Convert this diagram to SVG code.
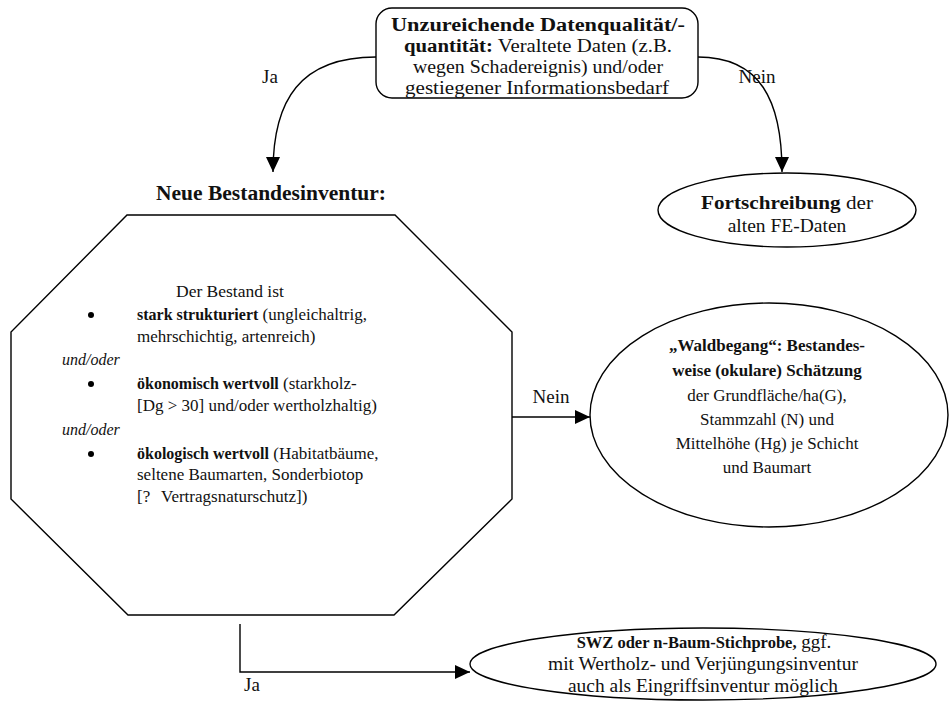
<svg xmlns="http://www.w3.org/2000/svg" width="950" height="701" viewBox="0 0 950 701">
<defs>
<marker id="arr" markerUnits="userSpaceOnUse" markerWidth="16" markerHeight="14" refX="15" refY="7" orient="auto">
<path d="M0,0 L15,7 L0,14 Z" fill="#000"/>
</marker>
<style>
.sh{fill:#fff;stroke:#000;stroke-width:1.4}
.ln{fill:none;stroke:#000;stroke-width:1.4}
text{fill:#111}
.b{font-weight:bold}
.i{font-style:italic}
.c{text-anchor:middle}
</style>
</defs>
<rect width="950" height="701" fill="#fff"/>
<g font-family="'Liberation Serif', 'Times New Roman', serif" font-size="17">
<g id="connectors">
<path class="ln" d="M376,57 C300,57 273,100 273,172" marker-end="url(#arr)"/>
<path class="ln" d="M698,57 C760,57 782,100 782,172" marker-end="url(#arr)"/>
<path class="ln" d="M512,417 L590,417" marker-end="url(#arr)"/>
<path class="ln" d="M240,624 L240,672 L470,672" marker-end="url(#arr)"/>
<text x="270" y="83" class="c" font-size="19">Ja</text>
<text x="757" y="83" class="c" font-size="19">Nein</text>
<text x="551" y="403" class="c" font-size="19">Nein</text>
<text x="252" y="691" class="c" font-size="19">Ja</text>
</g>
<g id="node-datenqualitaet" font-size="18.5">
<rect class="sh" x="376" y="8" width="322" height="90" rx="16"/>
<text x="538" y="31" class="c b" textLength="294" lengthAdjust="spacingAndGlyphs">Unzureichende Datenqualität/-</text>
<text x="538" y="52" class="c" textLength="268" lengthAdjust="spacingAndGlyphs"><tspan class="b">quantität:</tspan> Veraltete Daten (z.B.</text>
<text x="538" y="73" class="c" textLength="250" lengthAdjust="spacingAndGlyphs">wegen Schadereignis) und/oder</text>
<text x="537" y="94" class="c" textLength="264" lengthAdjust="spacingAndGlyphs">gestiegener Informationsbedarf</text>
</g>
<g id="node-fortschreibung" font-size="19.5">
<ellipse class="sh" cx="787" cy="210" rx="129" ry="37"/>
<text x="787" y="209" class="c" textLength="172" lengthAdjust="spacingAndGlyphs"><tspan class="b">Fortschreibung</tspan> der</text>
<text x="787" y="232" class="c">alten FE-Daten</text>
</g>
<g id="node-bestandesinventur" font-size="17">
<text x="271" y="200" class="c b" font-size="20" textLength="230" lengthAdjust="spacingAndGlyphs">Neue Bestandesinventur:</text>
<polygon class="sh" points="127,215 395,215 512,332 512,499 394,615 128,615 11,499 11,332"/>
<text x="176" y="297" font-size="17.5">Der Bestand ist</text>
<circle cx="91" cy="315" r="3"/>
<text x="137" y="320"><tspan class="b" font-size="16">stark strukturiert</tspan> (ungleichaltrig,</text>
<text x="137" y="342">mehrschichtig, artenreich)</text>
<text x="62" y="365" class="i" font-size="16">und/oder</text>
<circle cx="91" cy="384" r="3"/>
<text x="137" y="389"><tspan class="b" font-size="16">ökonomisch wertvoll</tspan> (starkholz-</text>
<text x="137" y="411">[Dg &gt; 30] und/oder wertholzhaltig)</text>
<text x="62" y="435" class="i" font-size="16">und/oder</text>
<circle cx="91" cy="454" r="3"/>
<text x="137" y="459"><tspan class="b" font-size="16">ökologisch wertvoll</tspan> (Habitatbäume,</text>
<text x="137" y="480">seltene Baumarten, Sonderbiotop</text>
<text x="137" y="502">[?<tspan x="161">Vertragsnaturschutz])</tspan></text>
</g>
<g id="node-waldbegang" font-size="17">
<ellipse class="sh" cx="769" cy="415" rx="179" ry="112"/>
<text x="767" y="351" class="c b">„Waldbegang“: Bestandes-</text>
<text x="767" y="376" class="c b">weise (okulare) Schätzung</text>
<text x="767" y="401" class="c">der Grundfläche/ha(G),</text>
<text x="767" y="425" class="c">Stammzahl (N) und</text>
<text x="767" y="449" class="c">Mittelhöhe (Hg) je Schicht</text>
<text x="767" y="473" class="c">und Baumart</text>
</g>
<g id="node-swz" font-size="19">
<ellipse class="sh" cx="703" cy="664" rx="233" ry="36"/>
<text x="704" y="648" class="c"><tspan class="b" font-size="16.5">SWZ oder n-Baum-Stichprobe,</tspan> ggf.</text>
<text x="703" y="670" class="c" textLength="310" lengthAdjust="spacingAndGlyphs">mit Wertholz- und Verjüngungsinventur</text>
<text x="703" y="692" class="c" textLength="270" lengthAdjust="spacingAndGlyphs">auch als Eingriffsinventur möglich</text>
</g>
</g>
</svg>
